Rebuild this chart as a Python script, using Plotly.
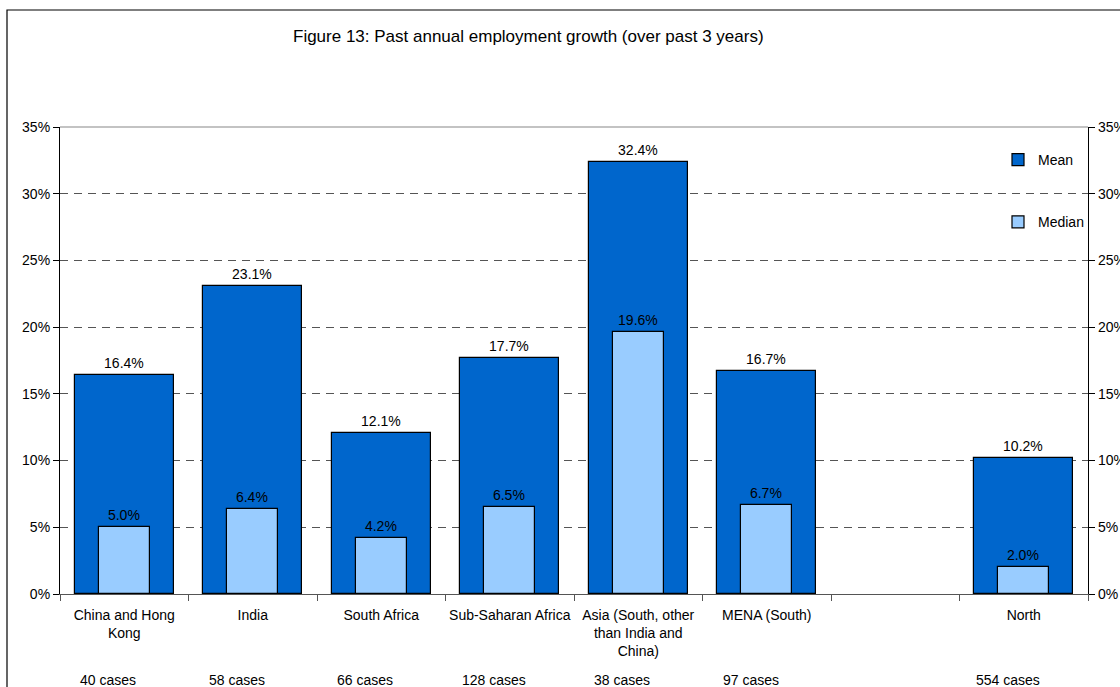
import plotly.graph_objects as go

categories = ["China and Hong<br>Kong", "India", "South Africa", "Sub-Saharan Africa",
              "Asia (South, other<br>than India and<br>China)", "MENA (South)", " ", "North"]
mean_vals = [16.4, 23.1, 12.1, 17.7, 32.4, 16.7, None, 10.2]
median_vals = [5.0, 6.4, 4.2, 6.5, 19.6, 6.7, None, 2.0]
case_labels = ["40 cases", "58 cases", "66 cases", "128 cases", "38 cases", "97 cases", "", "554 cases"]
y_ticks = [0, 5, 10, 15, 20, 25, 30, 35]
y_tick_text = [f"{v}%" for v in y_ticks]

FONT = "Liberation Sans, Arial, sans-serif"
W, H = 1120, 687
L, R, T, B = 60, 1120 - 1088, 127, 687 - 594
pw, ph = W - L - R, H - T - B

def px_x(p):
    return (p - L) / pw

def px_y(p):
    return (H - B - p) / ph

def fmt(v):
    return None if v is None else f"{v:.1f}%"

fig = go.Figure()
fig.add_trace(go.Bar(
    x=categories, y=mean_vals, name="Mean", width=0.77,
    marker=dict(color="#0066CC", line=dict(color="#000000", width=1.2)),
    text=[fmt(v) for v in mean_vals], textposition="outside",
    textfont=dict(family=FONT, size=14, color="#000"), cliponaxis=False,
    legendgroup="a",
))
fig.add_trace(go.Bar(
    x=categories, y=median_vals, name="Median", width=0.40,
    marker=dict(color="#99CCFF", line=dict(color="#000000", width=1.2)),
    text=[fmt(v) for v in median_vals], textposition="outside",
    textfont=dict(family=FONT, size=14, color="#000"), cliponaxis=False,
    legendgroup="b",
))
# invisible trace for the right axis
fig.add_trace(go.Scatter(x=categories, y=[None]*len(categories), yaxis="y2",
                         showlegend=False, hoverinfo="skip"))

annotations = [dict(
    text="Figure 13: Past annual employment growth (over past 3 years)",
    xref="paper", yref="paper", x=px_x(528), y=px_y(36), xanchor="center", yanchor="middle",
    showarrow=False, font=dict(family=FONT, size=17, color="#000"))]
for c, lab in zip(categories, case_labels):
    if lab:
        annotations.append(dict(text=lab, x=c, xref="x", yref="paper", y=px_y(680),
                                xanchor="center", yanchor="middle", xshift=-16,
                                showarrow=False, font=dict(family=FONT, size=14, color="#000")))

fig.update_layout(
    width=W, height=H,
    margin=dict(l=L, r=R, t=T, b=B, autoexpand=False),
    paper_bgcolor="white", plot_bgcolor="white",
    barmode="overlay", bargap=0,
    font=dict(family=FONT, size=14, color="#000"),
    showlegend=True,
    legend=dict(x=px_x(998), y=px_y(144), xanchor="left", yanchor="top",
                bgcolor="rgba(0,0,0,0)", tracegroupgap=41,
                traceorder="grouped", itemwidth=30,
                font=dict(family=FONT, size=14, color="#000")),
    xaxis=dict(type="category", tickson="boundaries", ticks="outside", ticklen=6,
               tickcolor="#555", showline=True, linecolor="#555", linewidth=1.2,
               showgrid=False, tickangle=0, ticklabelstandoff=8,
               tickfont=dict(family=FONT, size=14, color="#000"),
               range=[-0.5, len(categories) - 0.5]),
    yaxis=dict(range=[0, 35], tickvals=y_ticks, ticktext=y_tick_text,
               ticks="outside", ticklen=6, tickcolor="#000",
               showline=True, linecolor="#000", linewidth=1.2,
               showgrid=True, gridcolor="#555", griddash="8px,6px", gridwidth=1,
               zeroline=False, tickfont=dict(family=FONT, size=14, color="#000")),
    yaxis2=dict(range=[0, 35], tickvals=y_ticks, ticktext=y_tick_text, overlaying="y",
                side="right", ticks="outside", ticklen=6, tickcolor="#000",
                showline=True, linecolor="#000", linewidth=1.2, showgrid=False,
                zeroline=False, tickfont=dict(family=FONT, size=14, color="#000")),
    annotations=annotations,
    shapes=[
        dict(type="line", xref="paper", yref="paper", x0=0, x1=1, y0=1, y1=1,
             line=dict(color="#888", width=1.2)),
        dict(type="rect", xref="paper", yref="paper", x0=px_x(7), x1=px_x(1135),
             y0=px_y(700), y1=px_y(10), line=dict(color="#000", width=1.2),
             fillcolor="rgba(0,0,0,0)", layer="above"),
    ],
)

fig.write_html(
    "out.html",
    config={"displayModeBar": False},
    post_script="document.body.style.margin='0';document.body.style.overflow='hidden';",
)
